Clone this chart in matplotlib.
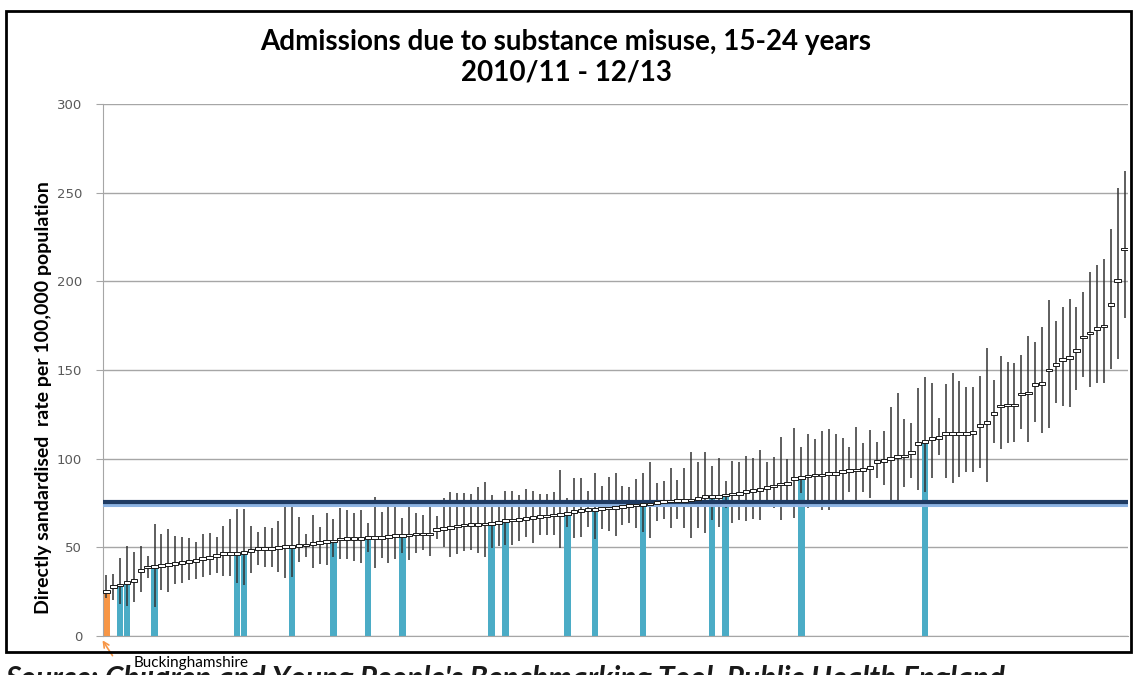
import numpy as np
import matplotlib.pyplot as plt
from matplotlib.patches import Rectangle

plt.rcParams['font.family'] = ['Lato', 'DejaVu Sans']

# directly standardised rate per 100,000, sorted, with 95% CI
rate = [25.0, 27.8, 28.8, 30.1, 31.4, 36.8, 38.9, 39.1, 39.7, 40.2,
        40.8, 41.4, 41.9, 42.7, 43.8, 44.5, 45.3, 46.6, 46.6, 46.6,
        47.0, 48.1, 49.2, 49.2, 49.2, 49.8, 50.4, 50.4, 50.8, 51.3,
        52.3, 52.8, 53.2, 53.6, 54.7, 55.1, 55.1, 55.1, 55.6, 55.6,
        55.6, 56.0, 56.6, 56.6, 57.0, 57.5, 57.5, 57.5, 60.2, 60.5,
        61.3, 62.0, 62.6, 63.0, 63.0, 63.2, 63.5, 64.1, 65.0, 65.4,
        65.8, 66.2, 66.9, 67.3, 67.7, 68.2, 68.6, 69.2, 70.1, 70.7,
        71.1, 71.4, 71.8, 72.2, 72.6, 73.1, 73.5, 73.9, 74.2, 74.4,
        75.2, 75.8, 76.1, 76.3, 76.3, 76.7, 77.6, 78.6, 78.6, 78.9,
        79.5, 80.1, 80.5, 81.4, 82.0, 82.7, 83.8, 84.6, 85.7, 86.1,
        88.9, 89.5, 90.2, 90.8, 90.8, 91.4, 91.7, 92.7, 93.2, 93.6,
        94.0, 94.9, 98.3, 99.2, 100.2, 101.1, 101.5, 103.4, 108.6, 109.6,
        111.5, 112.0, 114.3, 114.3, 114.3, 114.3, 114.8, 118.6, 120.3, 125.6,
        129.7, 130.3, 130.3, 136.5, 137.0, 141.9, 142.5, 150.0, 153.2, 156.0,
        157.1, 160.9, 168.6, 170.9, 173.5, 174.8, 186.7, 200.6, 218.2]

lower = [21.6, 20.3, 17.9, 17.1, 19.4, 25.0, 32.5, 16.5, 25.9, 25.0,
         29.1, 29.7, 31.6, 32.0, 33.5, 34.4, 35.3, 33.8, 33.8, 29.7,
         28.8, 35.3, 40.0, 39.1, 38.7, 36.3, 32.5, 33.5, 41.5, 44.4,
         38.5, 40.4, 39.8, 44.7, 43.2, 43.2, 42.5, 41.4, 47.6, 38.2,
         44.2, 41.4, 43.2, 47.0, 42.9, 47.0, 48.5, 45.1, 54.5, 50.4,
         44.4, 46.1, 47.9, 48.5, 46.6, 44.7, 49.4, 50.8, 51.3, 51.3,
         53.6, 56.0, 52.6, 57.0, 57.0, 57.0, 49.4, 61.7, 55.1, 56.0,
         61.3, 54.5, 60.2, 59.2, 56.4, 62.6, 63.9, 61.1, 58.8, 55.1,
         65.0, 65.8, 60.7, 65.8, 60.7, 55.1, 60.7, 57.9, 65.4, 61.7,
         72.0, 63.5, 65.4, 65.0, 65.8, 65.4, 72.9, 72.0, 65.4, 74.8,
         66.4, 80.5, 72.0, 72.9, 71.0, 71.0, 76.7, 76.7, 81.4, 74.8,
         81.4, 77.6, 88.9, 85.2, 76.7, 72.9, 84.2, 88.9, 82.3, 81.4,
         88.9, 102.1, 88.9, 86.1, 89.8, 92.7, 92.7, 94.5, 87.0, 108.6,
         105.5, 109.0, 109.2, 116.7, 109.6, 120.5, 114.7, 117.1, 131.2, 129.7,
         129.3, 138.7, 145.9, 140.2, 142.9, 142.9, 150.4, 156.0, 179.5]

upper = [34.4, 34.8, 44.2, 50.9, 47.2, 50.9, 45.1, 63.3, 57.3, 60.3,
         56.4, 56.0, 55.5, 53.0, 57.7, 57.9, 55.8, 62.2, 66.2, 71.4,
         71.8, 62.2, 58.6, 61.3, 60.7, 64.7, 73.3, 73.3, 67.3, 57.5,
         68.4, 61.7, 69.4, 65.8, 72.4, 71.0, 69.5, 71.1, 63.5, 78.6,
         69.9, 72.9, 72.9, 66.7, 72.9, 69.2, 68.2, 72.6, 67.7, 77.6,
         81.4, 80.8, 80.8, 79.9, 84.2, 86.7, 79.7, 76.7, 82.0, 81.8,
         79.3, 82.7, 82.0, 79.9, 79.9, 81.4, 93.6, 77.6, 89.3, 88.9,
         81.8, 92.1, 84.6, 89.5, 92.1, 84.6, 83.8, 88.3, 92.1, 98.3,
         86.1, 87.6, 94.5, 88.0, 94.5, 103.9, 98.3, 103.9, 96.0, 100.2,
         87.6, 98.7, 97.9, 101.5, 100.2, 104.9, 98.3, 100.8, 112.4, 99.6,
         117.1, 106.8, 113.7, 110.9, 115.6, 116.5, 113.7, 111.8, 106.4, 118.0,
         108.6, 116.2, 109.6, 115.6, 129.0, 136.8, 122.2, 119.9, 139.7, 145.9,
         142.9, 122.7, 142.1, 148.1, 144.0, 140.2, 140.6, 146.8, 162.2, 144.4,
         158.1, 154.3, 153.8, 158.5, 169.4, 166.0, 174.4, 189.5, 177.8, 185.3,
         189.8, 185.7, 193.8, 205.5, 209.2, 212.4, 229.3, 252.4, 262.4]

local_area = 0          # Buckinghamshire
comparators = [2, 3, 7, 19, 20, 27, 33, 38, 43, 56, 58, 67, 71, 78, 88, 90, 101, 119]
england = 75.4

W, H = 1133, 675
fig = plt.figure(figsize=(W / 100, H / 100), dpi=100)
ax = fig.add_axes([103 / W, 1 - 636 / H, 1025 / W, 532 / H])

x = np.arange(len(rate))
r = np.array(rate)

# highlighted bars
ax.bar(x[comparators], r[comparators], width=0.95, color='#4BACC6', zorder=1)
ax.bar(x[local_area], r[local_area], width=0.95, color='#F79646', zorder=1)

# confidence intervals
ax.vlines(x, lower, upper, color='#333333', lw=1.1, zorder=2)

# England average
ax.axhline(england - 1.5, color='#8DB3E2', lw=2.2, zorder=3)
ax.axhline(england, color='#1F3B63', lw=3.0, zorder=3)

# value markers
box_h = 1.6
ax.bar(x, box_h, bottom=r - box_h / 2, width=0.95, facecolor='white',
       edgecolor='#1a1a1a', lw=0.7, zorder=4)

ax.set_xlim(-0.5, len(rate) - 0.5)
ax.set_ylim(0, 300)
ax.set_yticks(range(0, 301, 50))
ax.set_xticks([])
ax.yaxis.grid(True, color='#A6A6A6', lw=1)
ax.set_axisbelow(True)
for s in ['top', 'right']:
    ax.spines[s].set_visible(False)
for s in ['left', 'bottom']:
    ax.spines[s].set_color('#A6A6A6')
ax.tick_params(axis='y', length=5, color='#A6A6A6', labelcolor='#595959', pad=10)
for lab in ax.get_yticklabels():
    lab.set_family('DejaVu Sans')
    lab.set_fontsize(9.5)

# outer frame
fig.add_artist(Rectangle((6 / W, 1 - 652 / H), 1125 / W, 641 / H,
                         transform=fig.transFigure, fill=False, ec='black', lw=2))

fig.text(566 / W, 1 - 42 / H, 'Admissions due to substance misuse, 15-24 years',
         ha='center', va='center', fontsize=20, weight='bold')
fig.text(566 / W, 1 - 73 / H, '2010/11 - 12/13',
         ha='center', va='center', fontsize=20, weight='bold')
fig.text(44 / W, 1 - 398 / H, 'Directly sandardised  rate per 100,000 population',
         rotation=90, ha='center', va='center', fontsize=14, weight='bold')

fig.text(5 / W, 1 - 665 / H,
         "Source: Children and Young People's Benchmarking Tool, Public Health England",
         ha='left', va='top', fontsize=21.5, style='italic', weight='bold',
         color='#1a1a1a')
fig.text(134 / W, 1 - 663 / H, 'Buckinghamshire', fontsize=11, va='center',
         bbox=dict(facecolor='white', edgecolor='none', pad=1))
ax.annotate('', xy=(101, H - 638), xycoords='figure pixels',
            xytext=(114, H - 658), textcoords='figure pixels',
            arrowprops=dict(arrowstyle='->', color='#F79646', lw=1.2))

fig.savefig('out.png', dpi=100)
